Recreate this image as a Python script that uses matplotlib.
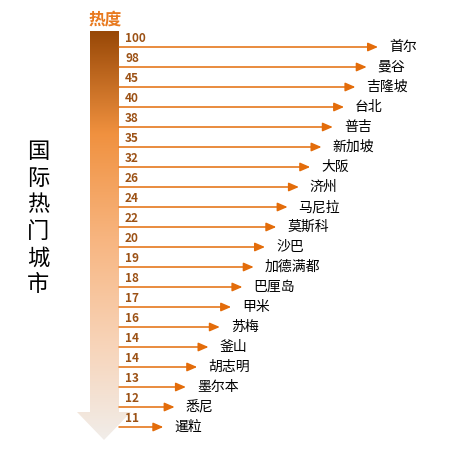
import matplotlib
matplotlib.use("Agg")
import matplotlib.pyplot as plt
import numpy as np
from matplotlib.colors import LinearSegmentedColormap
from matplotlib.patches import Polygon

plt.rcParams['font.family'] = ['Noto Sans CJK SC', 'DejaVu Sans']

cities = ["首尔", "曼谷", "吉隆坡", "台北", "普吉", "新加坡", "大阪", "济州", "马尼拉", "莫斯科",
          "沙巴", "加德满都", "巴厘岛", "甲米", "苏梅", "釜山", "胡志明", "墨尔本", "悉尼", "暹粒"]
heat = [100, 98, 45, 40, 38, 35, 32, 26, 24, 22, 20, 19, 18, 17, 16, 14, 14, 13, 12, 11]

title = "热度"
side_title = "国际热门城市"

W, H = 451, 452
fig = plt.figure(figsize=(W / 100, H / 100), dpi=100)
ax = fig.add_axes([0, 0, 1, 1])
ax.set_xlim(0, W)
ax.set_ylim(H, 0)
ax.axis("off")

# gradient arrow on the left
cmap = LinearSegmentedColormap.from_list("heat", [
    (0.0, "#984807"), (0.25, "#f0913f"), (0.5, "#f7b47e"),
    (0.75, "#f8d2b5"), (1.0, "#f1ede9")])
grad = np.linspace(0, 1, 256).reshape(-1, 1)
img = ax.imshow(grad, cmap=cmap, aspect="auto", extent=[76, 131, 441, 32], zorder=1)
shape = Polygon([(90, 32), (119, 32), (119, 413), (131, 413), (104, 441),
                 (77, 413), (90, 413)], closed=True, transform=ax.transData)
img.set_clip_path(shape)

ax.text(105, 20, title, ha="center", va="center", fontsize=12, fontweight="bold",
        color="#e8791e")
ax.text(38, 218, "\n".join(side_title), ha="center", va="center", fontsize=16,
        linespacing=1.2, color="black")

y0, dy = 48, 20.0
tip0, step = 378, 11.3
for i, (city, v) in enumerate(zip(cities, heat)):
    y = y0 + i * dy
    tip = tip0 - i * step
    ax.annotate("", xy=(tip, y), xytext=(119, y),
                arrowprops=dict(arrowstyle="-|>,head_length=0.6,head_width=0.26",
                                color="#e36c0a", lw=1.1, shrinkA=0, shrinkB=0),
                zorder=3)
    ax.text(125, y - 9, str(v), ha="left", va="center", fontsize=8.5,
            fontweight="bold", color="#9c5216")
    ax.text(tip + 11, y - 1, city, ha="left", va="center", fontsize=10, color="black")

fig.savefig("out.png", dpi=100)
